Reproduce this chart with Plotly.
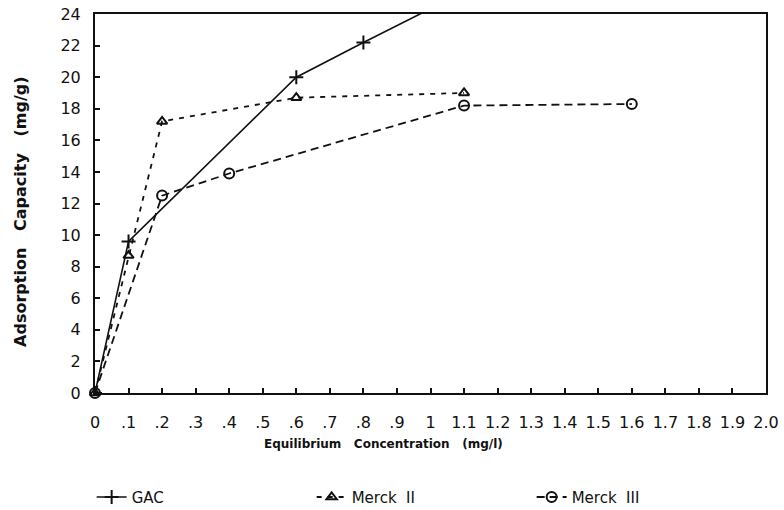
import plotly.graph_objects as go

# Equilibrium concentration (mg/l) and adsorption capacity (mg/g)
gac_x = [0, 0.1, 0.6, 0.8, 1.1]
gac_y = [0, 9.6, 20.0, 22.2, 25.4]

merck2_x = [0, 0.1, 0.2, 0.6, 1.1]
merck2_y = [0, 8.7, 17.2, 18.7, 19.0]

merck3_x = [0, 0.2, 0.4, 1.1, 1.6]
merck3_y = [0, 12.5, 13.9, 18.2, 18.3]

x_tick_vals = [i / 10 for i in range(21)]
x_tick_text = ["0", ".1", ".2", ".3", ".4", ".5", ".6", ".7", ".8", ".9", "1",
               "1.1", "1.2", "1.3", "1.4", "1.5", "1.6", "1.7", "1.8", "1.9", "2.0"]
y_tick_vals = list(range(0, 25, 2))

INK = "#111111"

fig = go.Figure()
fig.add_trace(go.Scatter(
    x=gac_x, y=gac_y, name="GAC", mode="lines+markers",
    line=dict(color=INK, width=1.6),
    marker=dict(symbol="cross-thin-open", size=10, line=dict(color=INK, width=2)),
    cliponaxis=True,
))
fig.add_trace(go.Scatter(
    x=merck2_x, y=merck2_y, name="Merck  II", mode="lines+markers",
    line=dict(color=INK, width=1.8, dash="5px,6px"),
    marker=dict(symbol="triangle-up-open", size=9, line=dict(color=INK, width=2)),
    cliponaxis=False,
))
fig.add_trace(go.Scatter(
    x=merck3_x, y=merck3_y, name="Merck  III", mode="lines+markers",
    line=dict(color=INK, width=1.8, dash="8px,5px"),
    marker=dict(symbol="circle-open", size=10, line=dict(color=INK, width=2)),
    cliponaxis=False,
))

axis_common = dict(
    showline=True, linecolor=INK, linewidth=2, mirror=True,
    ticks="inside", ticklen=5, tickwidth=1.5, tickcolor=INK,
    showgrid=False, zeroline=False,
    tickfont=dict(family="DejaVu Sans", size=16, color=INK),
)

fig.update_xaxes(range=[0, 2.0], tickvals=x_tick_vals, ticktext=x_tick_text,
                 ticklabelstandoff=14, **axis_common)
fig.update_yaxes(range=[0, 24], tickvals=y_tick_vals, ticklabelstandoff=9, **axis_common)

fig.add_annotation(
    text="Equilibrium\u00a0\u00a0\u00a0Concentration\u00a0\u00a0\u00a0(mg/l)",
    xref="paper", yref="paper", x=0.43, y=-0.135,
    xanchor="center", yanchor="middle", showarrow=False,
    font=dict(family="DejaVu Sans", size=12, color=INK, weight="bold"),
)
fig.add_annotation(
    text="Adsorption\u00a0\u00a0\u00a0Capacity\u00a0\u00a0\u00a0(mg/g)",
    xref="paper", yref="paper", x=-0.112, y=0.48, textangle=-90,
    xanchor="center", yanchor="middle", showarrow=False,
    font=dict(family="DejaVu Sans", size=16, color=INK, weight="bold"),
)

fig.update_layout(
    width=784, height=510,
    margin=dict(l=95, r=18, t=14, b=117, autoexpand=False),
    paper_bgcolor="white", plot_bgcolor="white",
    showlegend=True,
    legend=dict(
        orientation="h", x=-0.005, y=-0.275, xanchor="left", yanchor="middle",
        entrywidth=175, entrywidthmode="pixels",
        font=dict(family="DejaVu Sans", size=15, color=INK),
        bgcolor="rgba(0,0,0,0)",
    ),
)

fig.write_html("out.html")
